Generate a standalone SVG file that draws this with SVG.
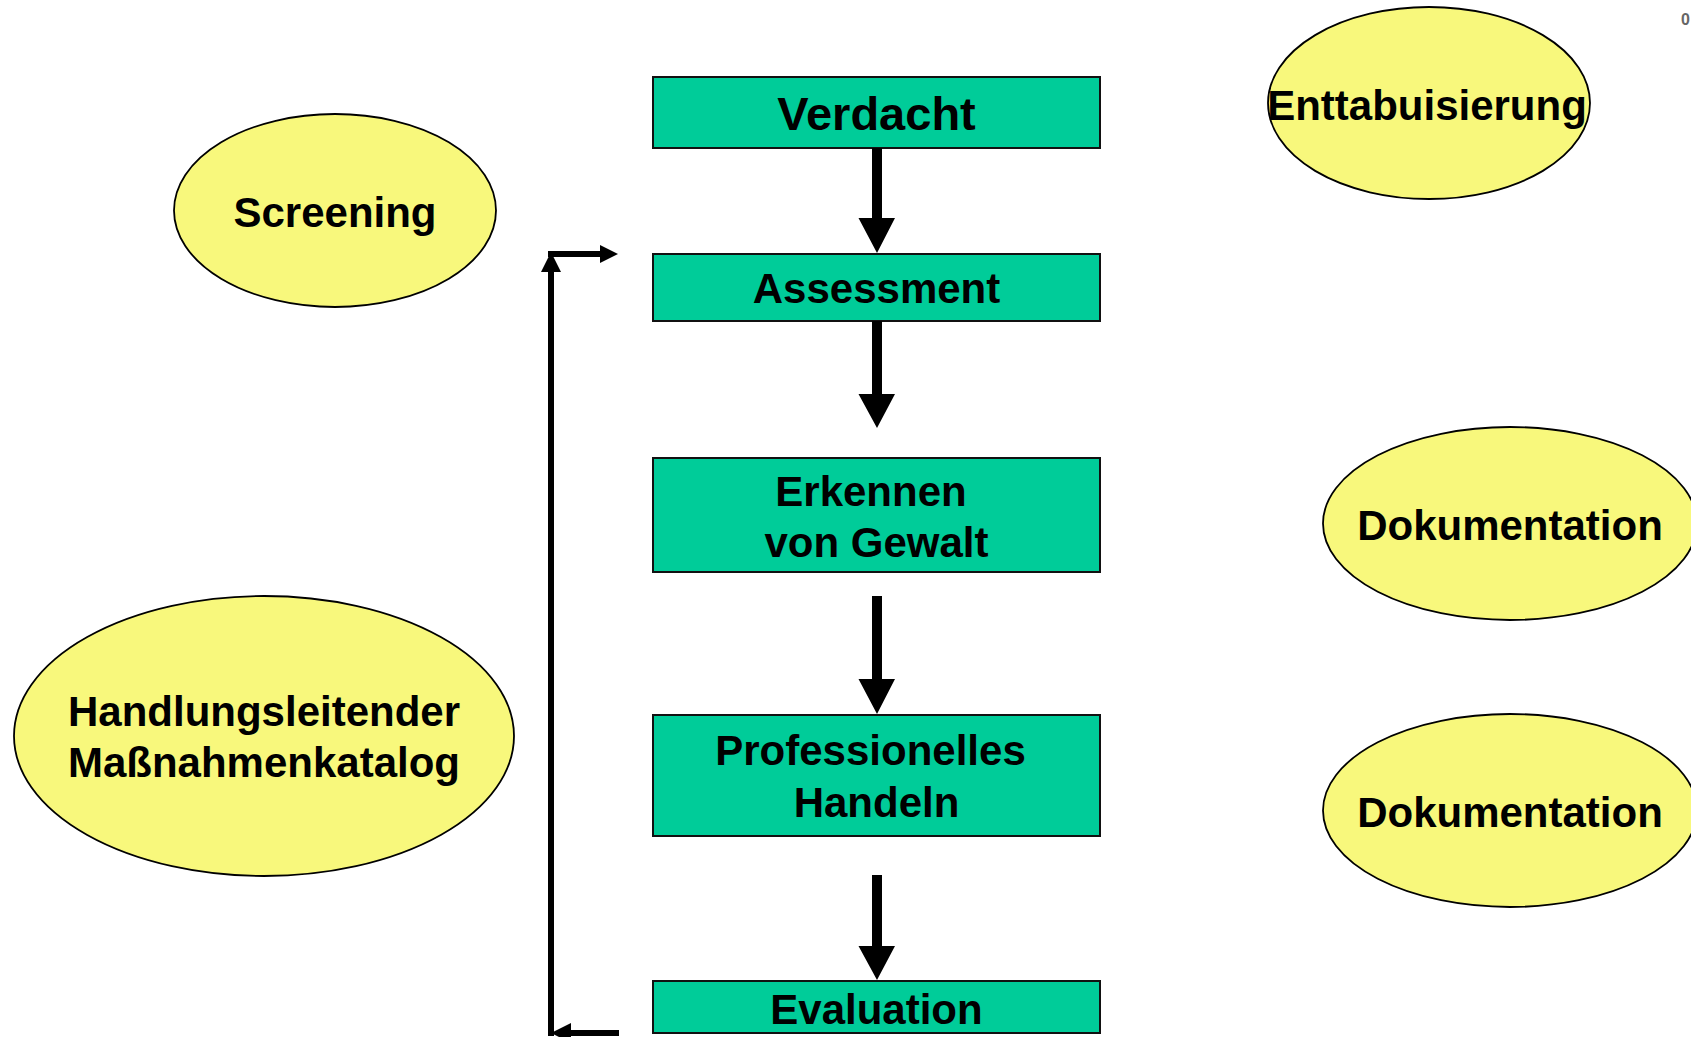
<svg xmlns="http://www.w3.org/2000/svg" width="1691" height="1037" viewBox="0 0 1691 1037">
<style>
.box{fill:#00CC99;stroke:#111;stroke-width:2}
.ell{fill:#F8F87C;stroke:#000;stroke-width:1.8}
.t{font-family:"Liberation Sans",Arial,sans-serif;font-weight:bold;fill:#000;text-anchor:middle;font-size:42px}
.ln{stroke:#000;stroke-width:6;fill:none}
</style>
<defs>
<marker id="ah" viewBox="0 0 18 18" refX="8" refY="9" markerWidth="18" markerHeight="18" orient="auto" markerUnits="userSpaceOnUse">
<path d="M0,0 L18,9 L0,18 z" fill="#000"/>
</marker>
<marker id="ah2" viewBox="0 0 20 20" refX="10" refY="10" markerWidth="20" markerHeight="20" orient="auto" markerUnits="userSpaceOnUse">
<path d="M0,0 L20,10 L0,20 z" fill="#000"/>
</marker>
</defs>
<rect width="1691" height="1037" fill="#fff"/>
<g id="ellipses">
<g id="screening"><ellipse class="ell" cx="335" cy="210.5" rx="161" ry="96.5"/><text class="t" x="335" y="227">Screening</text></g>
<g id="enttabuisierung"><ellipse class="ell" cx="1429" cy="103" rx="161" ry="96"/><text class="t" x="1427" y="120" font-size="41.5">Enttabuisierung</text></g>
<g id="dokumentation1"><ellipse class="ell" cx="1510" cy="523.5" rx="187" ry="96.5"/><text class="t" x="1510" y="540">Dokumentation</text></g>
<g id="dokumentation2"><ellipse class="ell" cx="1510" cy="810.5" rx="187" ry="96.5"/><text class="t" x="1510" y="827">Dokumentation</text></g>
<g id="massnahmenkatalog"><ellipse class="ell" cx="264" cy="736" rx="250" ry="140"/><text class="t" x="264" y="726">Handlungsleitender</text><text class="t" x="264" y="777">Maßnahmenkatalog</text></g>
</g>
<g id="nodes">
<g id="verdacht"><rect class="box" x="653" y="77" width="447" height="71"/><text class="t" x="876.5" y="130" style="font-size:47px">Verdacht</text></g>
<g id="assessment"><rect class="box" x="653" y="254" width="447" height="67"/><text class="t" x="876.5" y="303">Assessment</text></g>
<g id="erkennen"><rect class="box" x="653" y="458" width="447" height="114"/><text class="t" x="871" y="506">Erkennen</text><text class="t" x="876.5" y="557">von Gewalt</text></g>
<g id="professionelles"><rect class="box" x="653" y="715" width="447" height="121"/><text class="t" x="870.5" y="765">Professionelles</text><text class="t" x="876.5" y="817">Handeln</text></g>
<g id="evaluation"><rect class="box" x="653" y="981" width="447" height="52"/><text class="t" x="876.5" y="1024">Evaluation</text></g>
</g>
<g id="connectors" fill="#000">
<path d="M872,148 H882 V218 H895 L877,253 L858.5,218 H872 Z"/>
<path d="M872,321 H882 V394 H895 L877,428 L858.5,394 H872 Z"/>
<path d="M872,596 H882 V679 H895 L877,714 L858.5,679 H872 Z"/>
<path d="M872,875 H882 V946 H895 L877,980 L858.5,946 H872 Z"/>
<line class="ln" x1="619" y1="1033" x2="561" y2="1033" marker-end="url(#ah2)"/>
<line class="ln" x1="551" y1="1036" x2="551" y2="262" marker-end="url(#ah2)"/>
<line class="ln" x1="548" y1="254" x2="608" y2="254" marker-end="url(#ah)"/>
</g>
<text x="1681" y="25" font-family="Liberation Sans,Arial,sans-serif" font-size="16" font-weight="bold" fill="#666">0</text>
</svg>
